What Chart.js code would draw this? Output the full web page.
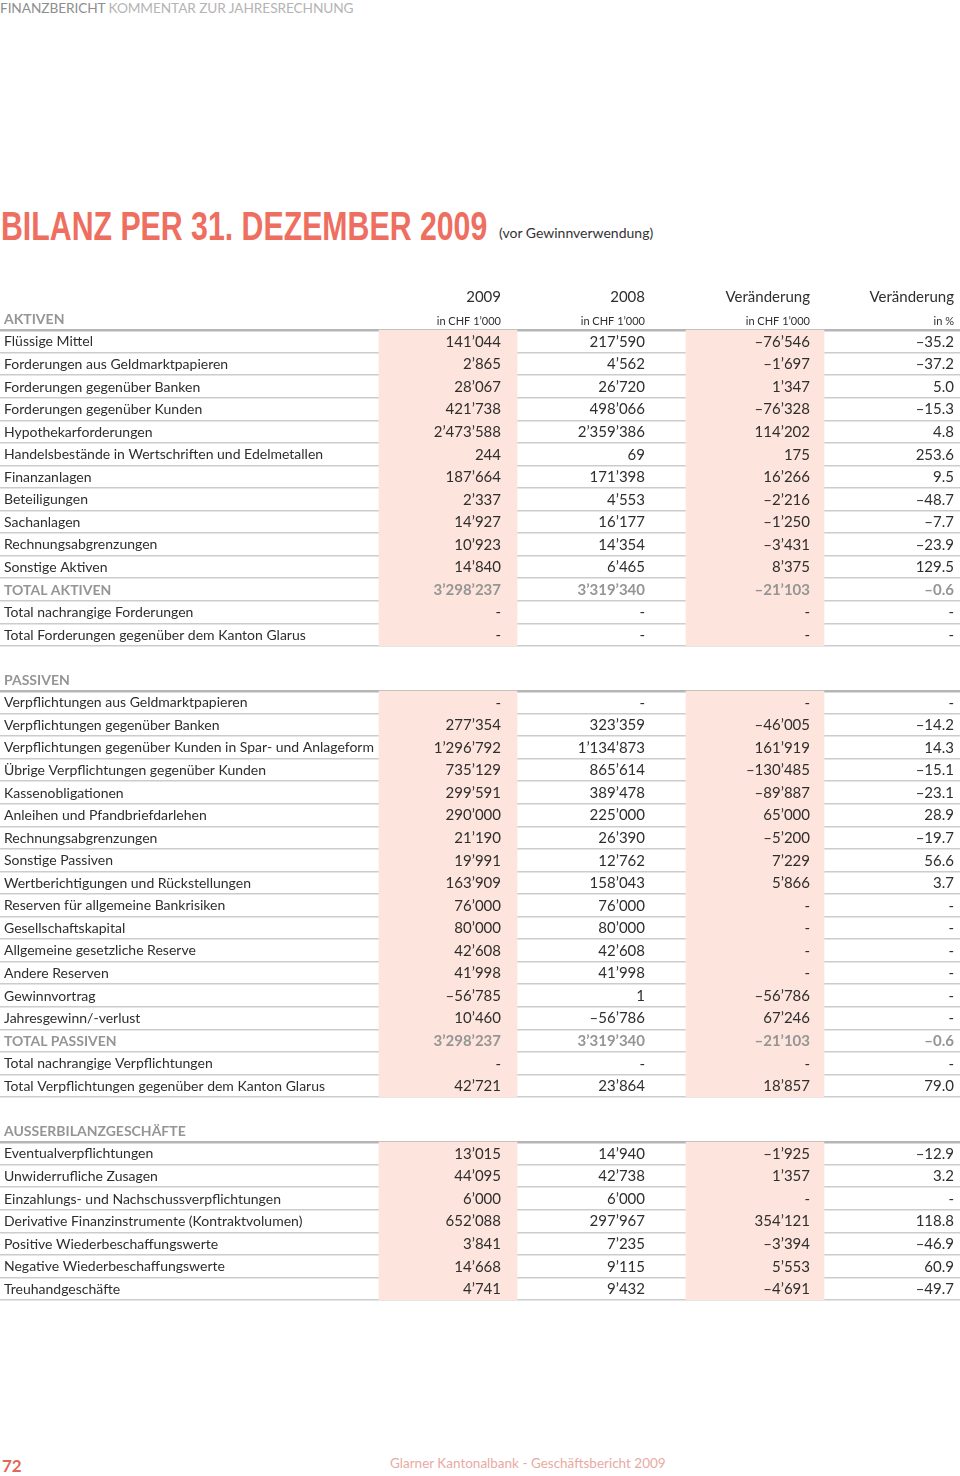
<!DOCTYPE html>
<html lang="de">
<head>
<meta charset="utf-8">
<title>Bilanz per 31. Dezember 2009</title>
<script src="https://cdn.jsdelivr.net/npm/chart.js@4.4.1/dist/chart.umd.min.js"></script>
<style>
  html, body { margin: 0; padding: 0; background: #fff; }
  body { width: 960px; height: 1476px; position: relative; overflow: hidden; font-family: Lato, "DejaVu Sans", sans-serif; }
  #kopf { position: absolute; left: 0; top: -1px; font-size: 13.7px; letter-spacing: -0.1px; color: #b4b4b4; }
  #kopf b { font-weight: normal; color: #8e8e8e; }
  #titel { position: absolute; left: 1px; top: 206px; white-space: nowrap; }
  #titel h1 { display: inline-block; margin: 0; font-family: "Liberation Sans", Arial, sans-serif; font-weight: bold; font-size: 40px; line-height: 40px; color: #ee6f5f; transform-origin: left center; }
  #titel span { position: absolute; left: 498px; top: 18px; font-size: 14px; color: #333; }
  #tabelle { position: absolute; left: 0; top: 285px; width: 960px; height: 1018px; }
  #seite { position: absolute; left: 2px; top: 1455px; font-size: 17px; font-weight: bold; color: #e0685a; }
  #fuss { position: absolute; left: 390px; top: 1455px; font-size: 13.5px; color: #e9aaa2; }
</style>
</head>
<body>
<div id="kopf"><b>FINANZBERICHT</b> KOMMENTAR ZUR JAHRESRECHNUNG</div>
<div id="titel"><h1 id="titelText">BILANZ PER 31. DEZEMBER 2009</h1><span>(vor Gewinnverwendung)</span></div>
<div id="tabelle"><canvas id="bilanz" width="960" height="1018"></canvas></div>
<div id="seite">72</div>
<div id="fuss">Glarner Kantonalbank - Geschäftsbericht 2009</div>

<script>
// --- DATEN (in CHF 1'000, null = "-") ---
const columnTitles = ['2009', '2008', 'Veränderung', 'Veränderung'];
const columnUnits = ['in CHF 1’000', 'in CHF 1’000', 'in CHF 1’000', 'in %'];

const aktivenLabels = [
  'Flüssige Mittel',
  'Forderungen aus Geldmarktpapieren',
  'Forderungen gegenüber Banken',
  'Forderungen gegenüber Kunden',
  'Hypothekarforderungen',
  'Handelsbestände in Wertschriften und Edelmetallen',
  'Finanzanlagen',
  'Beteiligungen',
  'Sachanlagen',
  'Rechnungsabgrenzungen',
  'Sonstige Aktiven',
  'TOTAL AKTIVEN',
  'Total nachrangige Forderungen',
  'Total Forderungen gegenüber dem Kanton Glarus'
];
const aktiven2009 = [141044, 2865, 28067, 421738, 2473588, 244, 187664, 2337, 14927, 10923, 14840, 3298237, null, null];
const aktiven2008 = [217590, 4562, 26720, 498066, 2359386, 69, 171398, 4553, 16177, 14354, 6465, 3319340, null, null];
const aktivenChange = [-76546, -1697, 1347, -76328, 114202, 175, 16266, -2216, -1250, -3431, 8375, -21103, null, null];
const aktivenPct = [-35.2, -37.2, 5.0, -15.3, 4.8, 253.6, 9.5, -48.7, -7.7, -23.9, 129.5, -0.6, null, null];

const passivenLabels = [
  'Verpflichtungen aus Geldmarktpapieren',
  'Verpflichtungen gegenüber Banken',
  'Verpflichtungen gegenüber Kunden in Spar- und Anlageform',
  'Übrige Verpflichtungen gegenüber Kunden',
  'Kassenobligationen',
  'Anleihen und Pfandbriefdarlehen',
  'Rechnungsabgrenzungen',
  'Sonstige Passiven',
  'Wertberichtigungen und Rückstellungen',
  'Reserven für allgemeine Bankrisiken',
  'Gesellschaftskapital',
  'Allgemeine gesetzliche Reserve',
  'Andere Reserven',
  'Gewinnvortrag',
  'Jahresgewinn/-verlust',
  'TOTAL PASSIVEN',
  'Total nachrangige Verpflichtungen',
  'Total Verpflichtungen gegenüber dem Kanton Glarus'
];
const passiven2009 = [null, 277354, 1296792, 735129, 299591, 290000, 21190, 19991, 163909, 76000, 80000, 42608, 41998, -56785, 10460, 3298237, null, 42721];
const passiven2008 = [null, 323359, 1134873, 865614, 389478, 225000, 26390, 12762, 158043, 76000, 80000, 42608, 41998, 1, -56786, 3319340, null, 23864];
const passivenChange = [null, -46005, 161919, -130485, -89887, 65000, -5200, 7229, 5866, null, null, null, null, -56786, 67246, -21103, null, 18857];
const passivenPct = [null, -14.2, 14.3, -15.1, -23.1, 28.9, -19.7, 56.6, 3.7, null, null, null, null, null, null, -0.6, null, 79.0];

const ausserLabels = [
  'Eventualverpflichtungen',
  'Unwiderrufliche Zusagen',
  'Einzahlungs- und Nachschussverpflichtungen',
  'Derivative Finanzinstrumente (Kontraktvolumen)',
  'Positive Wiederbeschaffungswerte',
  'Negative Wiederbeschaffungswerte',
  'Treuhandgeschäfte'
];
const ausser2009 = [13015, 44095, 6000, 652088, 3841, 14668, 4741];
const ausser2008 = [14940, 42738, 6000, 297967, 7235, 9115, 9432];
const ausserChange = [-1925, 1357, null, 354121, -3394, 5553, -4691];
const ausserPct = [-12.9, 3.2, null, 118.8, -46.9, 60.9, -49.7];

// --- LAYOUT / STIL ---
const PINK = '#fde4dc';
const TEXT = '#2e2e2e';
const GREY = '#959595';
const FONT = 'Lato, "DejaVu Sans", sans-serif';
// Spalten: rechter Textrand und (falls hinterlegt) Zellbereich auf der x-Achse
const COLS = [
  { right: 501, cell: [379, 517] },
  { right: 645, cell: null },
  { right: 810, cell: [686, 824] },
  { right: 954, cell: null }
];

// Titel auf die schmale Breite des Originals bringen
const titelText = document.getElementById('titelText');
titelText.style.transform = `scaleX(${486 / titelText.offsetWidth})`;

// Zeilen zusammenbauen
const rows = [{ type: 'colhead', label: '' }];
const addSection = (title, labels, v09, v08, chg, pct, withUnits) => {
  rows.push({ type: 'section', label: title, units: withUnits });
  labels.forEach((label, i) => {
    rows.push({
      type: label.startsWith('TOTAL ') ? 'total' : 'data',
      label,
      values: [v09[i], v08[i], chg[i], pct[i]]
    });
  });
};
addSection('AKTIVEN', aktivenLabels, aktiven2009, aktiven2008, aktivenChange, aktivenPct, true);
rows.push({ type: 'blank', label: '' });
addSection('PASSIVEN', passivenLabels, passiven2009, passiven2008, passivenChange, passivenPct, false);
rows.push({ type: 'blank', label: '' });
addSection('AUSSERBILANZGESCHÄFTE', ausserLabels, ausser2009, ausser2008, ausserChange, ausserPct, false);

const fmtInt = (v) => {
  if (v === null) return '-';
  const s = String(Math.abs(v)).replace(/\B(?=(\d{3})+(?!\d))/g, '’');
  return (v < 0 ? '–' : '') + s;
};
const fmtPct = (v) => (v === null ? '-' : (v < 0 ? '–' : '') + Math.abs(v).toFixed(1));

const isValueRow = (r) => r.type === 'data' || r.type === 'total';

// Text der Tabelle über die Skalen zeichnen
const tableText = {
  id: 'tableText',
  afterDraw(chart) {
    const { ctx, scales: { x, y } } = chart;
    ctx.save();
    ctx.textBaseline = 'middle';
    rows.forEach((row, i) => {
      const py = y.getPixelForValue(i) + 0.5;
      if (row.type === 'colhead') {
        ctx.font = `15px ${FONT}`;
        ctx.fillStyle = TEXT;
        ctx.textAlign = 'right';
        columnTitles.forEach((t, c) => ctx.fillText(t, x.getPixelForValue(COLS[c].right), py));
        return;
      }
      if (row.type === 'blank') return;

      const grey = row.type === 'section' || row.type === 'total';
      ctx.textAlign = 'left';
      ctx.fillStyle = grey ? GREY : TEXT;
      ctx.font = grey ? `bold 14px ${FONT}` : `14px ${FONT}`;
      ctx.fillText(row.label, x.getPixelForValue(4), py);

      if (row.type === 'section') {
        if (row.units) {
          ctx.font = `11px ${FONT}`;
          ctx.fillStyle = TEXT;
          ctx.textAlign = 'right';
          columnUnits.forEach((t, c) => ctx.fillText(t, x.getPixelForValue(COLS[c].right), py + 2));
        }
        return;
      }

      ctx.textAlign = 'right';
      ctx.font = grey ? `bold 15px ${FONT}` : `15px ${FONT}`;
      row.values.forEach((v, c) => {
        const txt = c === 3 ? fmtPct(v) : fmtInt(v);
        ctx.fillText(txt, x.getPixelForValue(COLS[c].right), py);
      });
    });
    ctx.restore();
  }
};

const cellData = (col) => rows.map(r => (isValueRow(r) ? COLS[col].cell : null));

new Chart(document.getElementById('bilanz'), {
  type: 'bar',
  data: {
    labels: rows.map(r => r.label),
    datasets: [
      { label: '2009', data: cellData(0), backgroundColor: PINK, borderWidth: 0, barPercentage: 1, categoryPercentage: 1, grouped: false },
      { label: 'Veränderung in CHF 1’000', data: cellData(2), backgroundColor: PINK, borderWidth: 0, barPercentage: 1, categoryPercentage: 1, grouped: false }
    ]
  },
  options: {
    indexAxis: 'y',
    responsive: false,
    animation: false,
    events: [],
    layout: { padding: { top: 0, bottom: 3, left: 0, right: 0 } },
    plugins: { legend: { display: false }, tooltip: { enabled: false } },
    scales: {
      x: { type: 'linear', min: 0, max: 960, display: false },
      y: {
        type: 'category',
        offset: true,
        z: 1,
        ticks: { display: false },
        border: { display: false },
        grid: {
          offset: true,
          drawTicks: false,
          // Linie Index k liegt unter Zeile k-1
          color: (c) => {
            const k = c.index === undefined ? rows.length : c.index;
            const above = rows[k - 1];
            if (!above) return 'rgba(0,0,0,0)';
            if (above.type === 'section') return '#b5b5b5';
            if (isValueRow(above)) return '#cccccc';
            return 'rgba(0,0,0,0)';
          },
          lineWidth: (c) => {
            const k = c.index === undefined ? rows.length : c.index;
            const above = rows[k - 1];
            return above && above.type === 'section' ? 2.5 : 1.5;
          }
        }
      }
    }
  },
  plugins: [tableText]
});
</script>
</body>
</html>
